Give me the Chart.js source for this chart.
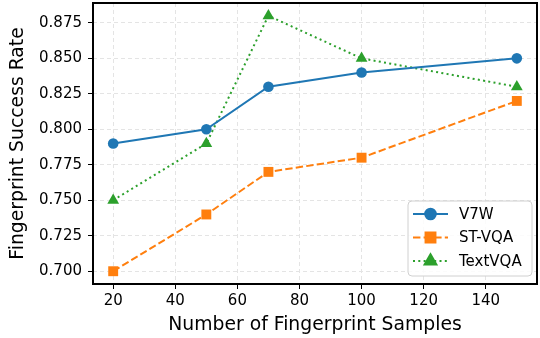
<!DOCTYPE html>
<html>
<head>
<meta charset="utf-8">
<script src="https://cdn.jsdelivr.net/npm/chart.js@4"></script>
<style>
  html, body { margin: 0; padding: 0; background: #fff; }
  #wrap { width: 540px; height: 338px; }
</style>
</head>
<body>
<div id="wrap"><canvas id="fp-chart" width="540" height="338"></canvas></div>
<script>
var samples = [20, 50, 70, 100, 150];
var v7w = [0.79, 0.80, 0.83, 0.84, 0.85];
var stvqa = [0.70, 0.74, 0.77, 0.78, 0.82];
var textvqa = [0.75, 0.79, 0.88, 0.85, 0.83];
var xTicks = [20, 40, 60, 80, 100, 120, 140];
var yTicks = [0.700, 0.725, 0.750, 0.775, 0.800, 0.825, 0.850, 0.875];

var FONT = "'DejaVu Sans', sans-serif";

function toPoints(ys) {
	return samples.map(function (x, i) { return {x: x, y: ys[i]}; });
}

// black box round the plot, like matplotlib spines
var framePlugin = {
	id: 'frame',
	afterDatasetsDraw: function (chart) {
		var a = chart.chartArea, ctx = chart.ctx;
		ctx.save();
		ctx.strokeStyle = '#000';
		ctx.lineWidth = 2;
		ctx.strokeRect(a.left, a.top, a.right - a.left, a.bottom - a.top);
		ctx.restore();
	}
};

// legend with line + marker samples, lower right inside the plot
var legendPlugin = {
	id: 'lineLegend',
	afterDraw: function (chart) {
		var ctx = chart.ctx, a = chart.chartArea;
		var w = 124, h = 75;
		var x0 = a.right - 5 - w, y0 = a.bottom - 8 - h;
		ctx.save();
		ctx.beginPath();
		ctx.roundRect(x0, y0, w, h, 4);
		ctx.fillStyle = 'rgba(255,255,255,0.85)';
		ctx.fill();
		ctx.strokeStyle = '#d0d0d0';
		ctx.lineWidth = 1;
		ctx.stroke();
		chart.data.datasets.forEach(function (ds, i) {
			var cy = y0 + 13 + i * 23.5;
			ctx.beginPath();
			ctx.setLineDash(ds.borderDash || []);
			ctx.strokeStyle = ds.borderColor;
			ctx.lineWidth = ds.borderWidth;
			ctx.moveTo(x0 + 5, cy);
			ctx.lineTo(x0 + 40, cy);
			ctx.stroke();
			ctx.setLineDash([]);
			Chart.helpers.drawPoint(ctx, {
				pointStyle: ds.pointStyle,
				radius: ds.pointRadius,
				borderWidth: 1
			}, x0 + 22.5, cy);
			ctx.fillStyle = ds.backgroundColor;
			ctx.fill();
			ctx.fillStyle = '#000';
			ctx.font = '15px ' + FONT;
			ctx.textBaseline = 'middle';
			ctx.fillText(ds.label, x0 + 51, cy + 1);
		});
		ctx.restore();
	}
};

new Chart('fp-chart', {
	type: 'line',
	data: {
		datasets: [
			{
				label: 'V7W',
				data: toPoints(v7w),
				borderColor: '#1f77b4',
				backgroundColor: '#1f77b4',
				borderWidth: 2,
				pointStyle: 'circle',
				pointRadius: 5.3,
				pointBorderWidth: 0
			},
			{
				label: 'ST-VQA',
				data: toPoints(stvqa),
				borderColor: '#ff7f0e',
				backgroundColor: '#ff7f0e',
				borderWidth: 2,
				borderDash: [7.4, 3.2],
				pointStyle: 'rect',
				pointRadius: 7,
				pointBorderWidth: 0
			},
			{
				label: 'TextVQA',
				data: toPoints(textvqa),
				borderColor: '#2ca02c',
				backgroundColor: '#2ca02c',
				borderWidth: 2,
				borderDash: [2, 3.3],
				pointStyle: 'triangle',
				pointRadius: 6.8,
				pointBorderWidth: 0
			}
		]
	},
	options: {
		responsive: false,
		animation: false,
		devicePixelRatio: 1,
		layout: { autoPadding: false, padding: { top: 3, right: 3, left: 0, bottom: 0 } },
		plugins: {
			legend: { display: false },
			tooltip: { enabled: false }
		},
		scales: {
			x: {
				type: 'linear',
				min: 13.5,
				max: 156.5,
				afterBuildTicks: function (scale) {
					scale.ticks = xTicks.map(function (v) { return {value: v}; });
				},
				afterFit: function (scale) {
					scale.height = 54;
					scale.paddingLeft = 0;
					scale.paddingRight = 0;
				},
				grid: { color: '#e4e4e4', tickColor: '#000', tickLength: 5, tickBorderDash: [] },
				border: { display: false, dash: [4, 3] },
				ticks: {
					color: '#000',
					font: { family: FONT, size: 15 },
					padding: 3,
					maxRotation: 0,
					callback: function (v) { return v; }
				},
				title: {
					display: true,
					text: 'Number of Fingerprint Samples',
					color: '#000',
					font: { family: FONT, size: 18.8 },
					padding: { top: 0, bottom: 2 }
				}
			},
			y: {
				min: 0.691,
				max: 0.889,
				afterBuildTicks: function (scale) {
					scale.ticks = yTicks.map(function (v) { return {value: v}; });
				},
				afterFit: function (scale) {
					scale.width = 93;
					scale.paddingTop = 0;
					scale.paddingBottom = 0;
				},
				grid: { color: '#e4e4e4', tickColor: '#000', tickLength: 5, tickBorderDash: [] },
				border: { display: false, dash: [4, 3] },
				ticks: {
					color: '#000',
					font: { family: FONT, size: 15 },
					padding: 6,
					callback: function (v) { return v.toFixed(3); }
				},
				title: {
					display: true,
					text: 'Fingerprint Success Rate',
					color: '#000',
					font: { family: FONT, size: 18.8 },
					padding: { top: 7, bottom: 0 }
				}
			}
		}
	},
	plugins: [framePlugin, legendPlugin]
});
</script>
</body>
</html>
